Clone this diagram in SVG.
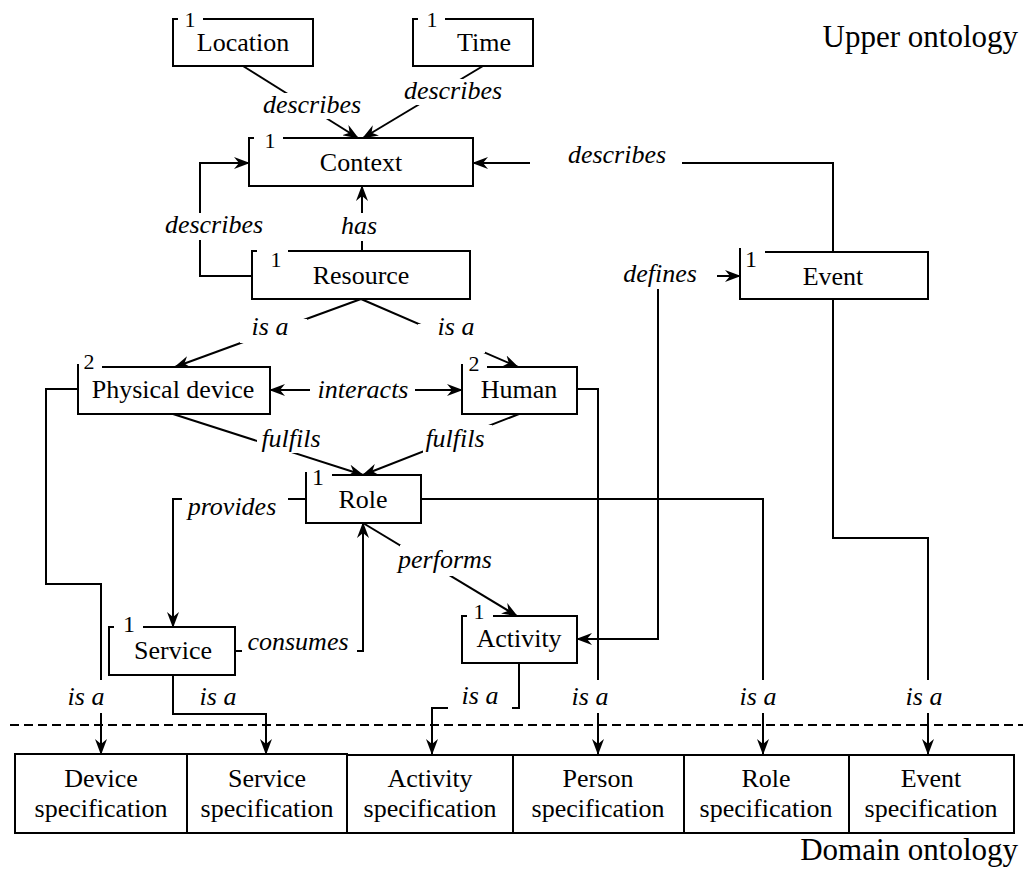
<svg xmlns="http://www.w3.org/2000/svg" width="1023" height="869" viewBox="0 0 1023 869">
<style>
text{font-family:"Liberation Serif","Times New Roman",serif;fill:#000}
.t{font-size:26px;text-anchor:middle}
.lb{font-size:26px;font-style:italic;text-anchor:middle}
.n{font-size:22px;text-anchor:middle}
.nL{font-size:24px;text-anchor:middle}
.big{font-size:31px;text-anchor:end}
.box{fill:#fff;stroke:#000;stroke-width:2}
.c{fill:none;stroke:#000;stroke-width:2}
.a{marker-end:url(#arr)}
.s{marker-start:url(#arr)}
.bg{fill:#fff;stroke:none}
.dash{stroke:#000;stroke-width:2;stroke-dasharray:9 5}
</style>
<defs>
<marker id="arr" viewBox="0 0 16 12" refX="15" refY="6" markerWidth="16" markerHeight="12" markerUnits="userSpaceOnUse" orient="auto-start-reverse">
<path d="M0,0 L16,6 L0,12 L5,6 Z" fill="#000"/>
</marker>
</defs>
<rect width="1023" height="869" fill="#fff"/>

<text class="big" x="1018" y="47">Upper ontology</text>
<text class="big" x="1018" y="860">Domain ontology</text>
<line class="dash" x1="10" y1="725" x2="1023" y2="725"/>

<g id="connectors">
<path class="c a" d="M243,66 L358,138"/>
<path class="c a" d="M483,66 L363,138"/>
<path class="c a" d="M252,276 H200 V163 H249"/>
<path class="c a" d="M362,251 V186"/>
<path class="c a" d="M833,252 V163 H473"/>
<path class="c a" d="M361,299 L175,367"/>
<path class="c a" d="M361,299 L518,367"/>
<path class="c a s" d="M270,390 H462"/>
<path class="c a" d="M173,414 L363,475"/>
<path class="c a" d="M519,414 L363,475"/>
<path class="c a" d="M306,499 H173 V627"/>
<path class="c a" d="M235,651 H363 V523"/>
<path class="c a" d="M363,523 L517,616"/>
<path class="c a s" d="M740,276 H658 V639 H577"/>
<path class="c a" d="M78,389 H46 V584 H101 V754"/>
<path class="c a" d="M173,675 V714 H266 V754"/>
<path class="c a" d="M519,663 V708 H432 V754"/>
<path class="c a" d="M577,389 H598 V754"/>
<path class="c a" d="M421,499 H763 V754"/>
<path class="c a" d="M833,299 V538 H928 V754"/>

<g id="labels">
<rect class="bg" x="261" y="93" width="104" height="26"/><text class="lb" x="312" y="113">describes</text>
<rect class="bg" x="401" y="79" width="105" height="26"/><text class="lb" x="453" y="99">describes</text>
<rect class="bg" x="162" y="213" width="104" height="27"/><text class="lb" x="214" y="233">describes</text>
<rect class="bg" x="339" y="213" width="42" height="28"/><text class="lb" x="359" y="234">has</text>
<rect class="bg" x="530" y="146" width="152" height="24"/><text class="lb" x="617" y="163">describes</text>
<rect class="bg" x="620" y="262" width="97" height="27"/><text class="lb" x="660" y="282">defines</text>
<rect class="bg" x="240" y="319" width="67" height="24"/><text class="lb" x="270" y="335">is a</text>
<rect class="bg" x="418" y="324" width="67" height="29"/><text class="lb" x="456" y="335">is a</text>
<rect class="bg" x="310" y="378" width="105" height="26"/><text class="lb" x="363" y="398">interacts</text>
<rect class="bg" x="257" y="426" width="68" height="27"/><text class="lb" x="291" y="447">fulfils</text>
<rect class="bg" x="423" y="425" width="69" height="28"/><text class="lb" x="455" y="447">fulfils</text>
<rect class="bg" x="182" y="493" width="106" height="28"/><text class="lb" x="232" y="515">provides</text>
<rect class="bg" x="242" y="636" width="115" height="20"/><text class="lb" x="298" y="650">consumes</text>
<rect class="bg" x="400" y="545" width="95" height="31"/><text class="lb" x="445" y="568">performs</text>
<rect class="bg" x="65" y="680" width="42" height="33"/><text class="lb" x="86" y="705">is a</text>
<text class="lb" x="218" y="705">is a</text>
<rect class="bg" x="448" y="686" width="64" height="26"/><text class="lb" x="480" y="704">is a</text>
<rect class="bg" x="569" y="680" width="42" height="33"/><text class="lb" x="590" y="705">is a</text>
<rect class="bg" x="737" y="680" width="43" height="33"/><text class="lb" x="758" y="705">is a</text>
<rect class="bg" x="903" y="680" width="43" height="33"/><text class="lb" x="924" y="705">is a</text>
</g>
</g>

<g id="location"><path class="box" d="M178,19 H173 V66 H313 V19 H203"/><text class="n" x="190" y="27">1</text><text class="t" x="243" y="51">Location</text></g>
<g id="time"><path class="box" d="M418,19 H413 V66 H533 V19 H445"/><text class="n" x="432" y="27">1</text><text class="t" x="484" y="51">Time</text></g>
<g id="context"><path class="box" d="M254,138 H249 V186 H473 V138 H283"/><text class="n" x="270" y="148">1</text><text class="t" x="361" y="171">Context</text></g>
<g id="resource"><path class="box" d="M257,251 H252 V299 H470 V251 H288"/><text class="n" x="276" y="267">1</text><text class="t" x="361" y="284">Resource</text></g>
<g id="event"><path class="box" d="M740,248 V299 H928 V252 H765"/><text class="nL" x="751" y="267">1</text><text class="t" x="833" y="285">Event</text></g>
<g id="physical-device"><path class="box" d="M78,364 V414 H270 V367 H102"/><text class="n" x="89" y="369">2</text><text class="t" x="173" y="398">Physical device</text></g>
<g id="human"><path class="box" d="M462,364 V414 H577 V367 H487"/><text class="n" x="474" y="371">2</text><text class="t" x="519" y="398">Human</text></g>
<g id="role"><path class="box" d="M306,472 V523 H421 V475 H332"/><text class="nL" x="318" y="485">1</text><text class="t" x="363" y="508">Role</text></g>
<g id="service"><path class="box" d="M114,627 H109 V675 H235 V627 H143"/><text class="nL" x="129" y="632">1</text><text class="t" x="173" y="659">Service</text></g>
<g id="activity"><path class="box" d="M467,616 H462 V663 H577 V616 H493"/><text class="n" x="479" y="619">1</text><text class="t" x="519" y="647">Activity</text></g>

<g id="device-spec"><rect class="box" x="15" y="754" width="172" height="79"/><text class="t" x="101" y="787">Device</text><text class="t" x="101" y="817">specification</text></g>
<g id="service-spec"><rect class="box" x="187" y="754" width="160" height="79"/><text class="t" x="267" y="787">Service</text><text class="t" x="267" y="817">specification</text></g>
<g id="activity-spec"><rect class="box" x="347" y="755" width="166" height="78"/><text class="t" x="430" y="787">Activity</text><text class="t" x="430" y="817">specification</text></g>
<g id="person-spec"><rect class="box" x="513" y="755" width="171" height="78"/><text class="t" x="598" y="787">Person</text><text class="t" x="598" y="817">specification</text></g>
<g id="role-spec"><rect class="box" x="684" y="755" width="165" height="78"/><text class="t" x="766" y="787">Role</text><text class="t" x="766" y="817">specification</text></g>
<g id="event-spec"><rect class="box" x="849" y="755" width="165" height="78"/><text class="t" x="931" y="787">Event</text><text class="t" x="931" y="817">specification</text></g>
</svg>
